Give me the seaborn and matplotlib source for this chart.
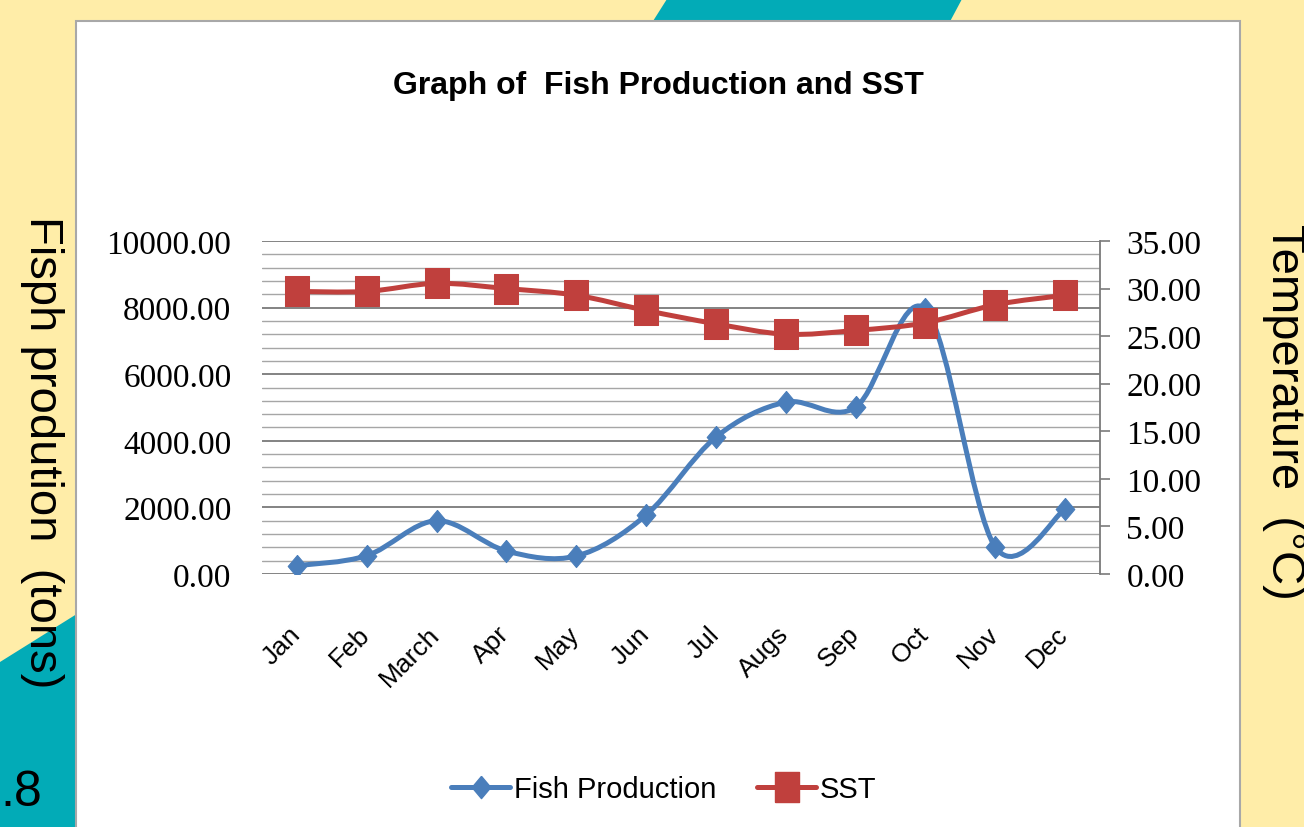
import numpy as np
import pandas as pd
import matplotlib
matplotlib.use("Agg")
import matplotlib.pyplot as plt
import seaborn as sns
from matplotlib.path import Path
from matplotlib.patches import PathPatch, Rectangle, Polygon
from matplotlib.lines import Line2D
from matplotlib.ticker import MultipleLocator, FormatStrFormatter
from matplotlib.transforms import ScaledTranslation

# ---- data -------------------------------------------------------------
months = ["Jan", "Feb", "March", "Apr", "May", "Jun",
          "Jul", "Augs", "Sep", "Oct", "Nov", "Dec"]
fish_production = [250, 550, 1600, 690, 540, 1770,
                   4110, 5160, 5010, 7950, 810, 1950]
sst = [29.7, 29.7, 30.55, 30.0, 29.3, 27.7,
       26.3, 25.2, 25.6, 26.4, 28.3, 29.3]

left_ticks = [0, 2000, 4000, 6000, 8000, 10000]
right_ticks = [0, 5, 10, 15, 20, 25, 30, 35]

# ---- style ------------------------------------------------------------
sns.set_theme(style="white")
plt.rcParams["font.family"] = ["Liberation Sans", "DejaVu Sans"]
plt.rcParams["text.color"] = "black"
plt.rcParams["xtick.color"] = "black"
plt.rcParams["ytick.color"] = "black"
plt.rcParams["xtick.labelcolor"] = "black"
plt.rcParams["ytick.labelcolor"] = "black"

YELLOW = "#FFEDA8"
TEAL = "#02ABB7"
BLUE = "#4A7EBB"
RED = "#C0403D"
NARROW = ["Liberation Sans Narrow", "Liberation Sans", "DejaVu Sans"]
SERIF = ["Liberation Serif", "DejaVu Serif"]

W, H = 1304, 828
fig = plt.figure(figsize=(W / 100, H / 100), dpi=100, facecolor=YELLOW)


def px(x, y):
    """pixel (from top-left) -> figure fraction"""
    return x / W, 1 - y / H


# slide decorations (behind the axes)
fig.patches.append(Polygon([px(667, 0), px(962, 0), px(946, 30), px(648, 30)],
                           closed=True, transform=fig.transFigure,
                           facecolor=TEAL, edgecolor="none", zorder=-3))
fig.patches.append(Polygon([px(0, 663), px(80, 613), px(80, 828), px(0, 828)],
                           closed=True, transform=fig.transFigure,
                           facecolor=TEAL, edgecolor="none", zorder=-3))
# white chart panel
x0, y0 = px(76, 22)
x1, _ = px(1240, 22)
fig.patches.append(Rectangle((x0, -0.01), x1 - x0, y0 + 0.01,
                             transform=fig.transFigure,
                             facecolor="white", edgecolor="#A8A8A8",
                             linewidth=1.5, zorder=-2))

# side labels and slide number
fig.text(*px(42, 452), "Fisph prodution  (tons)", rotation=270,
         ha="center", va="center", fontsize=34, color="black")
fig.text(*px(1284, 412), "Temperature  (°C)", rotation=270,
         ha="center", va="center", fontsize=34, color="black")
fig.text(*px(0, 793), ".8", ha="left", va="center", fontsize=36,
         color="black")

# ---- axes -------------------------------------------------------------
l, t = px(262, 242)
r, b = px(1100, 575)
ax = fig.add_axes([l, b, r - l, t - b])
ax.set_facecolor("none")
ax2 = ax.twinx()
ax2.set_facecolor("none")

xs = np.arange(len(months))
df = pd.DataFrame({"month": xs, "fish": fish_production, "sst": sst})


def smooth_path(x, y):
    """Cubic Bezier path through the points (Catmull-Rom control points)."""
    pts = np.column_stack([x, y]).astype(float)
    n = len(pts)
    verts = [pts[0]]
    codes = [Path.MOVETO]
    for i in range(n - 1):
        p0 = pts[i - 1] if i > 0 else pts[i]
        p1, p2 = pts[i], pts[i + 1]
        p3 = pts[i + 2] if i + 2 < n else pts[i + 1]
        c1 = p1 + (p2 - p0) / 6.0
        c2 = p2 - (p3 - p1) / 6.0
        verts += [c1, c2, p2]
        codes += [Path.CURVE4] * 3
    return Path(verts, codes)


diamond = Path([(0, 0.5), (0.42, 0), (0, -0.5), (-0.42, 0), (0, 0.5)])
square = Path([(-0.4, -0.5), (0.4, -0.5), (0.4, 0.5), (-0.4, 0.5), (-0.4, -0.5)])

# fish production (left axis)
ax.add_patch(PathPatch(smooth_path(df["month"], df["fish"]), facecolor="none",
                       edgecolor=BLUE, linewidth=3.6, capstyle="round",
                       joinstyle="round", zorder=3))
sns.lineplot(data=df, x="month", y="fish", ax=ax, linestyle="", marker=diamond,
             markersize=16, color=BLUE, markeredgecolor=BLUE, zorder=4,
             legend=False)

# SST (right axis)
ax2.add_patch(PathPatch(smooth_path(df["month"], df["sst"]), facecolor="none",
                        edgecolor=RED, linewidth=3.6, capstyle="round",
                        joinstyle="round", zorder=3))
sns.lineplot(data=df, x="month", y="sst", ax=ax2, linestyle="", marker=square,
             markersize=22, color=RED, markeredgecolor=RED, zorder=4,
             legend=False)

# scales
ax.set_xlim(-0.5, len(months) - 0.5)
ax.set_ylim(0, 10000)
ax2.set_ylim(0, 35)

# grid lines: minor every 400, major every 2000
ax.yaxis.set_major_locator(MultipleLocator(2000))
ax.yaxis.set_minor_locator(MultipleLocator(400))
ax.grid(which="major", axis="y", color="#7A7A7A", linewidth=1.3)
ax.grid(which="minor", axis="y", color="#A6A6A6", linewidth=1.0)
ax.grid(which="major", axis="x", visible=False)
ax.set_axisbelow(True)

ax.set_yticks(left_ticks)
ax.yaxis.set_major_formatter(FormatStrFormatter("%.2f"))
ax.tick_params(axis="y", which="both", length=0, pad=22, labelsize=24,
               labelcolor="black")
for lab in ax.get_yticklabels():
    lab.set_family(SERIF)

ax2.set_yticks(right_ticks)
ax2.yaxis.set_major_formatter(FormatStrFormatter("%.2f"))
ax2.tick_params(axis="y", which="major", direction="out", length=7, width=1.2,
                color="#7A7A7A", pad=12, labelsize=24, right=True,
                labelcolor="black")
for lab in ax2.get_yticklabels():
    lab.set_family(SERIF)

ax.set_xticks(xs)
ax.set_xticklabels(months)
ax.tick_params(axis="x", length=0, pad=34, labelsize=19, labelcolor="black")
shift = ScaledTranslation(-9 / 100, 0, fig.dpi_scale_trans)
for lab in ax.get_xticklabels():
    lab.set_rotation(45)
    lab.set_ha("right")
    lab.set_va("top")
    lab.set_rotation_mode("anchor")
    lab.set_family(NARROW)
    lab.set_transform(lab.get_transform() + shift)

for a in (ax, ax2):
    a.set_xlabel("")
    a.set_ylabel("")
    for side in ("top", "left", "bottom"):
        a.spines[side].set_visible(False)
ax2.spines["right"].set_visible(True)
ax2.spines["right"].set_color("#7A7A7A")
ax2.spines["right"].set_linewidth(1.3)
ax.spines["right"].set_visible(False)

# title
fig.text(*px(658, 86), "Graph of  Fish Production and SST", ha="center",
         va="center", fontsize=23, fontweight="bold", family=NARROW,
         color="black")

# legend
handles = [
    Line2D([], [], color=BLUE, linewidth=3.6, marker=diamond, markersize=16),
    Line2D([], [], color=RED, linewidth=3.6, marker=square, markersize=22),
]
fig.legend(handles, ["Fish Production", "SST"], loc="center",
           bbox_to_anchor=px(664, 790), ncol=2, frameon=False,
           prop={"family": NARROW, "size": 21}, handlelength=2.0,
           handletextpad=0.15, columnspacing=1.4, labelcolor="black")

fig.savefig("out.png", dpi=100, facecolor=YELLOW)
